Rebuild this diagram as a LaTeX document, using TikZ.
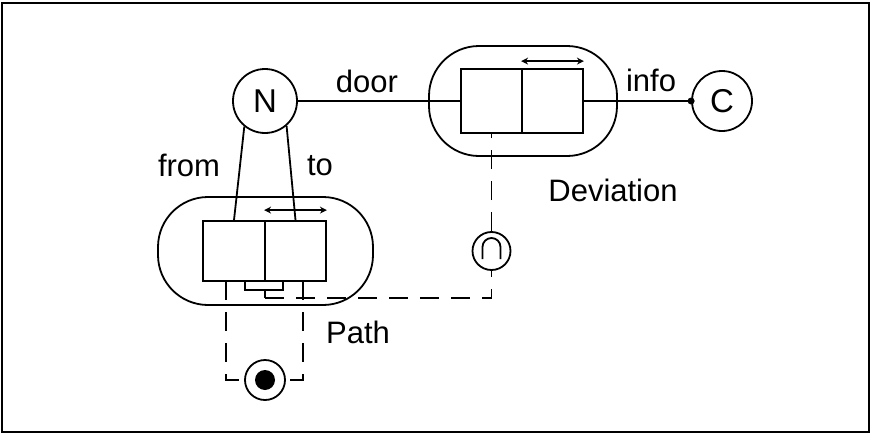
\documentclass[tikz,border=0pt]{standalone}
\usepackage{fontspec}
\setmainfont{Liberation Sans}
\usetikzlibrary{arrows.meta}
\tikzset{
  ln/.style={line width=1.8pt},
  thk/.style={line width=2.2pt},
  circ/.style={circle, draw, line width=1.8pt, inner sep=0pt, font=\fontsize{33}{38}\selectfont},
  rbox/.style={rectangle, draw, line width=1.8pt, rounded corners=50pt, inner sep=0pt},
  cell/.style={rectangle, draw, line width=1.8pt, inner sep=0pt},
  lbl/.style={inner sep=0pt, font=\fontsize{31}{36}\selectfont},
  dsh/.style={line width=1.8pt, dash pattern=on 19pt off 12pt},
  dbl/.style={line width=1.8pt, {Stealth[length=7pt,width=7pt]}-{Stealth[length=7pt,width=7pt]}}
}
\begin{document}
\begin{tikzpicture}[x=1pt,y=-1pt]
\useasboundingbox (0,0) rectangle (871,434);
\draw[line width=2.5pt] (2,3) rectangle (869,432);

% nodes
\node[circ, minimum size=64pt] (N) at (265,101) {N};
\node[circ, minimum size=60pt] (C) at (722,101) {C};

\node[rbox, minimum width=188pt, minimum height=110pt] (dev) at (523,101) {};
\node[cell, minimum width=61pt, minimum height=64pt] (devL) at (491.5,101) {};
\node[cell, minimum width=61pt, minimum height=64pt] (devR) at (552.5,101) {};

\node[rbox, minimum width=215pt, minimum height=108pt] (path) at (265.5,251) {};
\node[cell, minimum width=62pt, minimum height=60pt] (pL) at (234,251) {};
\node[cell, minimum width=61pt, minimum height=60pt] (pR) at (295.5,251) {};

\node[circle, draw, line width=1.8pt, minimum size=38pt, inner sep=0pt] (cap) at (491.5,251) {};
\node[circle, draw, line width=1.8pt, minimum size=40pt, inner sep=0pt] (dot) at (265,380) {};
\fill (dot.center) circle (10);

% labels
\node[lbl] (door) at (367,81) {door};
\node[lbl] (info) at (651,80) {info};
\node[lbl] (from) at (189,165) {from};
\node[lbl] (to) at (320,166) {to};
\node[lbl] (devlbl) at (613,190) {Deviation};
\node[lbl] (pathlbl) at (358,332) {Path};

% solid connectors
\draw[thk] (N.east) -- (devL.west);
\draw[thk] (devR.east) -- (C.west);
\fill (C.west) circle (3.5);
\draw[ln] (N.231) -- (pL.north);
\draw[ln] (N.311) -- (pR.north);

% double arrows
\draw[dbl] ([yshift=7pt]devR.north west) -- ([yshift=7pt]devR.north east);
\draw[dbl] ([yshift=10pt]pR.north west) -- ([yshift=10pt]pR.north east);

% cap symbol
\draw[ln] (482.5,259) -- (482.5,247) arc (180:360:9) -- (500.5,259);

% bracket under Path
\coordinate (b1) at (245,281);
\coordinate (b2) at (283,281);
\coordinate (stemtop) at (265,290);
\coordinate (stem) at (265,298);
\draw[ln] (b1) -- (245,290) -- (283,290) -- (b2);
\draw[ln] (stemtop) -- (stem);

% dashed connectors
\draw[dsh] (stem) -| (cap.south);
\draw[dsh] (cap.north) -- (devL.south);
\coordinate (l1) at (226,281);
\coordinate (r1) at (303,281);
\draw[dsh] (l1) |- (dot.west);
\draw[dsh] (r1) |- (dot.east);
\end{tikzpicture}
\end{document}
